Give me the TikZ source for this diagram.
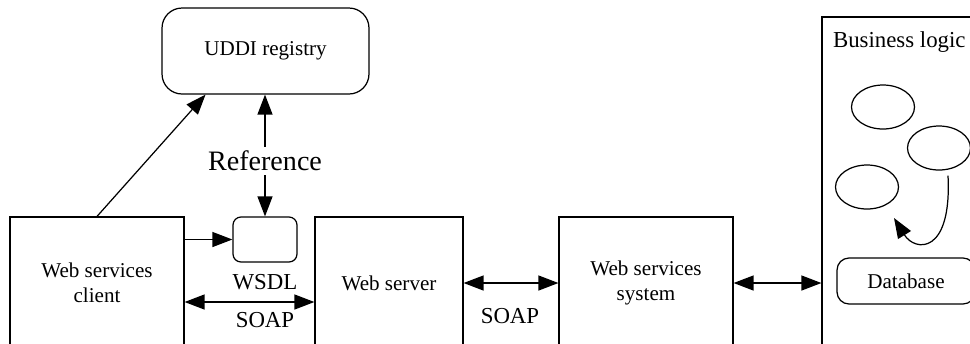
\documentclass[tikz,border=0pt]{standalone}
\usepackage{fontspec}
\setmainfont{Liberation Serif}
\usepackage{tikz}
\usetikzlibrary{shapes, arrows.meta, positioning, calc}

\begin{document}
\begin{tikzpicture}[
  x=0.02cm, y=-0.02cm, line width=0.7pt,
  box/.style={draw, minimum height=2.64cm, align=center, inner sep=0pt, font=\fontsize{12}{14.5}\selectfont},
  rbox/.style={draw, rounded corners=#1, inner sep=0pt, font=\fontsize{12}{14}\selectfont},
  blob/.style={draw, ellipse, inner sep=0pt, minimum width=1.26cm, minimum height=0.88cm},
  lbl/.style={inner sep=1pt, font=\fontsize{13}{15}\selectfont},
  arr/.style={-{Triangle[length=4mm,width=3mm]}},
  darr/.style={{Triangle[length=4mm,width=3mm]}-{Triangle[length=4mm,width=3mm]}}
]
  \clip (0,0) rectangle (970,343);
  \node[rbox=0.4cm, minimum width=4.14cm, minimum height=1.72cm] (uddi) at (265.5,51) {UDDI registry};
  \node[box, minimum width=3.48cm] (client) at (97,283) {Web services\\client};
  \node[rbox=0.16cm, minimum width=1.28cm, minimum height=0.9cm] (wsdl) at (265,239.5) {};
  \node[box, minimum width=2.96cm] (server) at (389,283) {Web server};
  \node[box, minimum width=3.48cm] (system) at (646,283) {Web services\\system};
  \node[draw, minimum width=3.36cm, minimum height=6.86cm, inner sep=0pt] (logic) at (906,188.5) {};
  \node[anchor=north west, inner sep=0pt, font=\fontsize{13}{15}\selectfont] (logictitle) at ([xshift=0.22cm,yshift=-0.3cm]logic.north west) {Business logic};
  \node[blob] (e1) at (883,107) {};
  \node[blob] (e2) at (939,148) {};
  \node[blob] (e3) at (867,187) {};
  \node[rbox=0.24cm, minimum width=2.76cm, minimum height=0.92cm] (db) at (906,281) {Database};
  \coordinate (loopend) at (894,218);

  \node[inner sep=2pt, font=\fontsize{16}{18}\selectfont] (ref) at (265,161) {Reference};
  \node[lbl] (wsdllbl) at (265,282) {WSDL};
  \node[lbl] (soap1) at (265,320) {SOAP};
  \node[lbl] (soap2) at (510,316) {SOAP};

  \draw[arr] (client.north) -- ([xshift=-1.2cm]uddi.south);
  \draw[arr] (ref.north) -- (uddi.south -| ref.north);
  \draw[arr] (ref.south) -- (wsdl.north);
  \draw[arr] (client.east |- wsdl.west) -- (wsdl.west);
  \draw[darr] ([yshift=-0.38cm]client.east) -- ([yshift=-0.38cm]server.west);
  \draw[darr] (server.east) -- (system.west);
  \draw[darr] (system.east) -- (system.east -| logic.west);
  \draw[arr] ([xshift=0.18cm,yshift=-0.1cm]e2.south) .. controls (952,255) and (915,252) .. (loopend);
\end{tikzpicture}
\end{document}
